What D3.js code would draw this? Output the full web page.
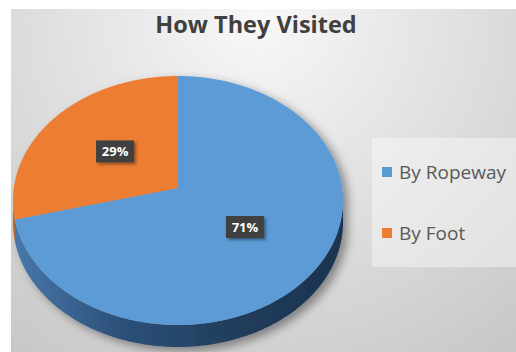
<!DOCTYPE html>
<html>
<head>
<meta charset="utf-8">
<script src="https://cdn.jsdelivr.net/npm/d3@7"></script>
<style>
  body { margin: 0; background: #fff; }
</style>
</head>
<body>
<div id="chart"></div>
<script>
var svgWidth = 516;
var svgHeight = 352;

// data
var categories = ["By Ropeway", "By Foot"];
var values = [71, 29];
var colors = ["#5b9bd5", "#ed7d31"];
var sideColors = [["#4878aa", "#2c5079", "#213d5c", "#1c3350"], ["#b9612a", "#a5541f", "#8f471a", "#7d3d16"]];
var title = "How They Visited";

var cx = 178, cy = 200.5, rx = 165, ry = 124.5, depth = 22;
var tilt = 0.1; // perspective shift of the pie centre
var b = Math.sqrt(1 - tilt * tilt);

// project a point on the flat pie (angle clockwise from top, radius 0..1) to the screen
function proj(theta, r) {
    var u = r * Math.sin(theta);
    var v = -r * Math.cos(theta);
    var w = 1 - tilt * v;
    return [cx + rx * u * b / w, cy + ry * (v - tilt) / w];
}

function arcPoints(a0, a1, dy) {
    var pts = [];
    var n = Math.max(2, Math.ceil(Math.abs(a1 - a0) / 0.01));
    for (var i = 0; i <= n; i++) {
        var p = proj(a0 + (a1 - a0) * i / n, 1);
        pts.push([p[0], p[1] + (dy || 0)]);
    }
    return pts;
}

var svg = d3.select("#chart")
    .append("svg")
    .attr("width", svgWidth)
    .attr("height", svgHeight);

var defs = svg.append("defs");

var bg = defs.append("radialGradient")
    .attr("id", "bg")
    .attr("gradientUnits", "userSpaceOnUse")
    .attr("cx", 258).attr("cy", 15).attr("r", 430);
bg.append("stop").attr("offset", 0).attr("stop-color", "#f8f8f8");
bg.append("stop").attr("offset", 1).attr("stop-color", "#c6c6c6");

sideColors.forEach(function(sc, i) {
    var g = defs.append("linearGradient")
        .attr("id", "side" + i)
        .attr("gradientUnits", "userSpaceOnUse")
        .attr("x1", cx - rx).attr("x2", cx + rx)
        .attr("y1", 0).attr("y2", 0);
    sc.forEach(function(c, j) {
        g.append("stop").attr("offset", j / (sc.length - 1)).attr("stop-color", c);
    });
});

var shadow = defs.append("filter").attr("id", "pieShadow")
    .attr("x", "-20%").attr("y", "-20%").attr("width", "140%").attr("height", "140%");
shadow.append("feDropShadow")
    .attr("dx", 5).attr("dy", 4).attr("stdDeviation", 5)
    .attr("flood-color", "#000").attr("flood-opacity", 0.4);

var lblShadow = defs.append("filter").attr("id", "lblShadow")
    .attr("x", "-30%").attr("y", "-30%").attr("width", "160%").attr("height", "160%");
lblShadow.append("feDropShadow")
    .attr("dx", 2).attr("dy", 2).attr("stdDeviation", 1.5)
    .attr("flood-color", "#000").attr("flood-opacity", 0.4);

// background
svg.append("rect")
    .attr("x", 11).attr("y", 9)
    .attr("width", svgWidth - 11).attr("height", svgHeight - 9)
    .attr("fill", "url(#bg)");

// title
svg.append("text")
    .attr("x", 256)
    .attr("y", 33)
    .attr("text-anchor", "middle")
    .style("font-family", "'Open Sans', sans-serif")
    .style("font-weight", "bold")
    .style("font-size", "23.5px")
    .attr("fill", "#404040")
    .text(title);

var pie = d3.pie().sort(null).value(function(d) { return d; });
var arcs = pie(values);

var line = d3.line();
var pieGroup = svg.append("g").attr("filter", "url(#pieShadow)");

// visible front wall
var frontStart = Math.acos(-tilt);
var frontEnd = 2 * Math.PI - frontStart;
arcs.forEach(function(a, i) {
    var s = Math.max(a.startAngle, frontStart);
    var e = Math.min(a.endAngle, frontEnd);
    if (e <= s) return;
    var topEdge = arcPoints(s, e, 0);
    var bottomEdge = arcPoints(e, s, depth);
    pieGroup.append("path")
        .attr("d", line(topEdge.concat(bottomEdge)) + "Z")
        .attr("fill", "url(#side" + i + ")");
});

// top face
arcs.forEach(function(a, i) {
    var pts = [proj(0, 0)].concat(arcPoints(a.startAngle, a.endAngle, 0));
    pieGroup.append("path")
        .attr("d", line(pts) + "Z")
        .attr("fill", colors[i]);
});

// data labels
var total = d3.sum(values);
arcs.forEach(function(a, i) {
    var p = proj((a.startAngle + a.endAngle) / 2, 0.5);
    var g = svg.append("g").attr("transform", "translate(" + p[0] + "," + p[1] + ")");
    g.append("rect")
        .attr("x", -19).attr("y", -11)
        .attr("width", 38).attr("height", 22)
        .attr("fill", "#404040")
        .attr("filter", "url(#lblShadow)");
    g.append("text")
        .attr("text-anchor", "middle")
        .attr("dy", "0.36em")
        .style("font-family", "'Open Sans', sans-serif")
        .style("font-weight", "bold")
        .style("font-size", "13px")
        .attr("fill", "#fff")
        .text(Math.round(values[i] / total * 100) + "%");
});

// legend
var legend = svg.append("g");
legend.append("rect")
    .attr("x", 372).attr("y", 138)
    .attr("width", 144).attr("height", 129)
    .attr("fill", "#fff").attr("opacity", 0.4);

var legendY = d3.scalePoint().domain(categories).range([172, 233]);
var items = legend.selectAll("g.item")
    .data(categories)
    .enter()
    .append("g")
    .attr("class", "item")
    .attr("transform", function(d) { return "translate(0," + legendY(d) + ")"; });
items.append("rect")
    .attr("x", 382).attr("y", -5)
    .attr("width", 10).attr("height", 10)
    .attr("fill", function(d, i) { return colors[i]; });
items.append("text")
    .attr("x", 399)
    .attr("dy", "0.35em")
    .style("font-family", "'Open Sans', sans-serif")
    .style("font-size", "19px")
    .attr("fill", "#595959")
    .text(function(d) { return d; });
</script>
</body>
</html>
